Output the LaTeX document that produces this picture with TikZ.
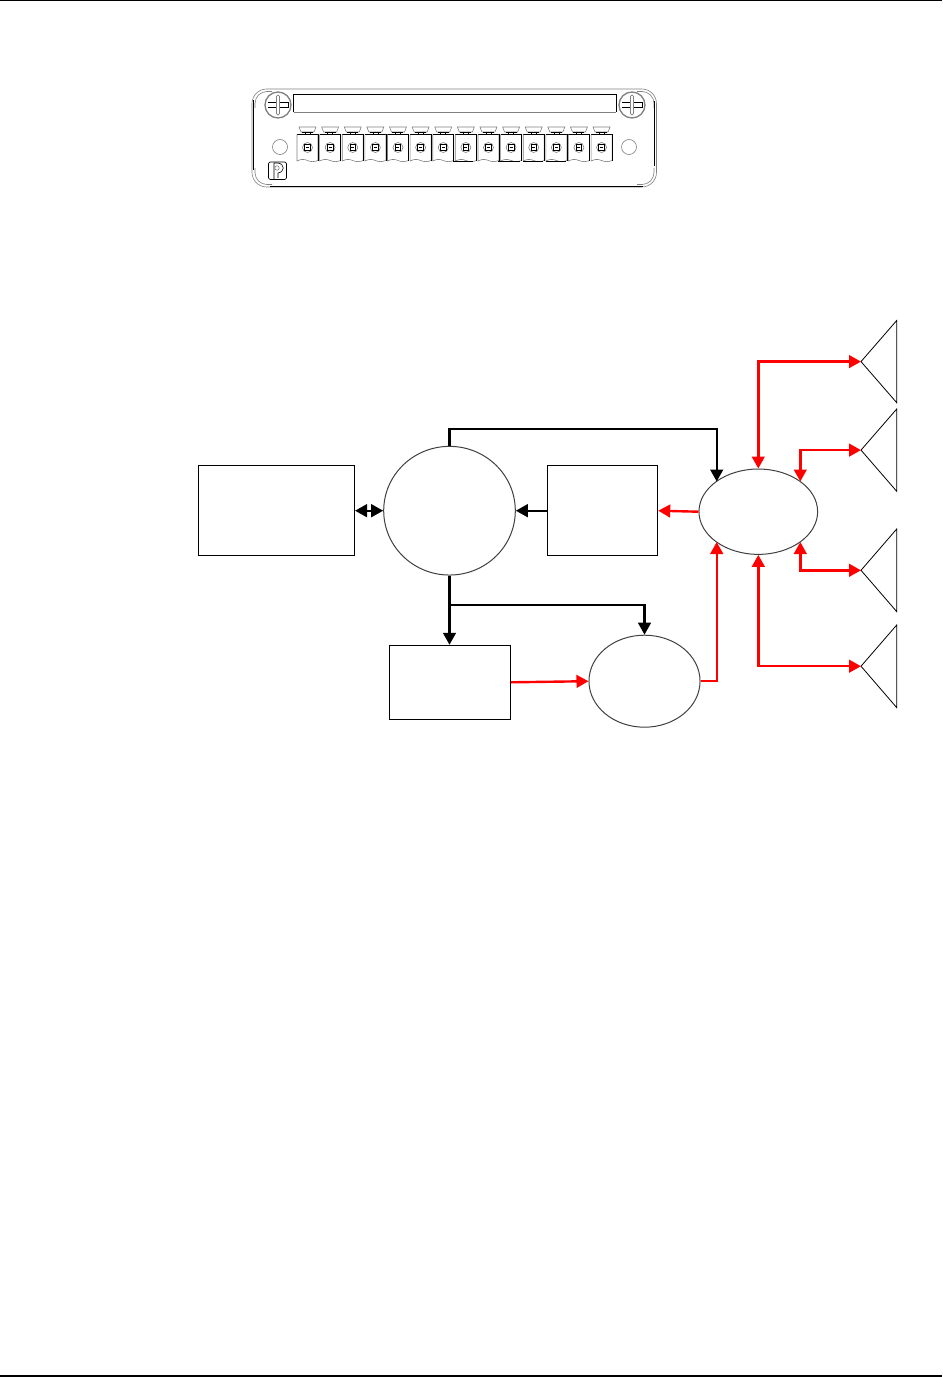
\documentclass[tikz,border=0pt]{standalone}
\usetikzlibrary{shapes.geometric,arrows.meta}
\definecolor{wire}{RGB}{255,0,0}
\definecolor{thin}{gray}{0.5}
\tikzset{
  x=0.75pt,y=-0.75pt,
  boxnode/.style={draw=black,line width=0.75pt,rectangle,inner sep=0pt},
  roundnode/.style={draw=black!75,line width=0.75pt,ellipse,inner sep=0pt},
  conn/.style={line width=1.8pt,-{Triangle[length=9pt,width=9.5pt]},line join=miter},
  dconn/.style={line width=1.8pt,{Triangle[length=9pt,width=9.5pt]}-{Triangle[length=9pt,width=9.5pt]},line join=miter},
  horn/.style={draw=black,line width=0.6pt,line join=miter},
  panel/.style={draw=black,line width=0.5pt},
  panelthin/.style={draw=thin,line width=0.45pt},
}
\begin{document}
\begin{tikzpicture}
\useasboundingbox (0,0) rectangle (942,1377);
% page rules
\draw[line width=0.9pt] (0,0.8) -- (942,0.8);
\draw[line width=0.9pt] (0,1376) -- (942,1376);

% ---- front panel ----
\draw[panelthin,rounded corners=11pt] (252,89) rectangle (656.5,187);
\draw[panelthin,rounded corners=9pt] (255,108) |- (272,91.5);
\draw[panelthin,rounded corners=9pt] (637,91.5) -| (654,108);
\draw[panelthin,rounded corners=9pt] (255,168) |- (272,184.5);
\draw[panelthin,rounded corners=9pt] (637,184.5) -| (654,168);
\draw[panel] (253.5,100) -- (253.5,170);
\draw[panel] (270,186) -- (643,186);
\draw[panel] (654,101) -- (654,166);
% label strip
\draw[panel] (293.5,112) -- (293.5,94.5) -- (616,94.5) -- (616,112);
\draw[panelthin] (293.5,112) -- (616,112);
% screws
\foreach \cx/\cy in {278/105,632/105}{
  \draw[draw=thin,line width=1pt] (\cx,\cy) circle[radius=13];
  \draw[panel,line width=0.45pt] (\cx-10,\cy-2.5) -- (\cx-1.5,\cy-2.5) (\cx+1.5,\cy-2.5) -- (\cx+10,\cy-2.5) -- (\cx+10,\cy+2.5) -- (\cx+1.5,\cy+2.5) (\cx-1.5,\cy+2.5) -- (\cx-10,\cy+2.5) -- cycle;
  \draw[draw=thin,line width=0.5pt,rounded corners=1pt] (\cx-1.5,\cy-10) rectangle (\cx+1.5,\cy+10);
}
% holes
\draw[panelthin] (280,147) circle[radius=7.5];
\draw[panelthin] (629,147) circle[radius=7.5];
% logo
\draw[panel,rounded corners=1.5pt] (268.5,162) rectangle (286.5,179.5);
\draw[panel,line width=0.45pt] (274,179) -- (274,163) -- (278,163) .. controls (285,164) and (285,172) .. (278,173) -- (278,178);
\draw[panelthin] (277,168) circle[radius=2.2];
% terminals
\foreach \i in {0,...,13}{
  \begin{scope}[shift={({297+22.62*\i},0)}]
    \draw[panelthin] (2,127) -- (19,127) -- (17,132) -- (4,132) -- cycle;
    \draw[panel,line width=0.45pt] (5,132.5) -- (16,132.5);
    \draw[panel,line width=0.45pt] (8,132.5) -- (8,134.5) (13,132.5) -- (13,134.5);
    \draw[panel,line width=0.45pt] (0,134.5) -- (21,134.5);
    \draw[panelthin] (0,134.5) -- (0,161) .. controls (4,159) and (7,159) .. (10.5,160.5) .. controls (14,162) and (17,162) .. (21,160.5) -- (21,134.5);
    \draw[panel,line width=0.45pt] (21,134.5) -- (21,161);
    \draw[panelthin] (10.5,147.5) circle[radius=5];
    \draw[panel,line width=0.55pt] (7.7,144.5) rectangle (13.3,150.5);
    \draw[panel,line width=0.4pt] (9,147.5) -- (12,147.5);
  \end{scope}
}
\draw[panel,line width=0.9pt] (453,161.5) -- (473,161.5) (498,161.5) -- (520,161.5) (523,161.5) -- (543,161.5) (546,161.5) -- (566,161.5);

% ---- block diagram ----
\node[boxnode,minimum width=117pt,minimum height=67.9pt] (host) at (276.5,510.7) {};
\node[roundnode,minimum width=98.7pt,minimum height=96.5pt] (proc) at (449.5,510.7) {};
\node[boxnode,minimum width=82.8pt,minimum height=67.9pt] (adc) at (602.5,510.7) {};
\node[boxnode,minimum width=90.8pt,minimum height=55.5pt] (dac) at (449.8,682.3) {};
\node[roundnode,minimum width=83.3pt,minimum height=69pt] (amp) at (644.5,681.2) {};
\node[roundnode,minimum width=89pt,minimum height=64pt] (xbar) at (758.3,511.7) {};

% speakers
\foreach \n/\ya/\ym/\yb in {a/320.5/361.6/402.7,b/409/450.1/491.3,c/529/570.3/611.6,d/625/666.2/707.6}{
  \coordinate (sp\n) at (861,\ym);
  \draw[horn] (sp\n) -- (896.7,\ya) -- (896.7,\yb) -- cycle;
}

% junction / tap coordinates
\coordinate (pr1) at (449.5,429);
\coordinate (xbarNW) at (716.7,481.5);
\coordinate (xbarSW) at (716.7,542);
\coordinate (xbarNE) at (800.3,481.5);
\coordinate (xbarSE) at (800.3,542);
\coordinate (tap) at (449.5,605);

% black connectors
\draw[dconn] (host.east) -- (proc.west);
\draw[conn] (adc.west) -- (proc.east);
\draw[conn] (proc.north) -- (pr1) -| (xbarNW);
\draw[conn] (proc.south) -- (dac.north -| proc.south);
\draw[conn] (tap) -| (amp.north);

% red connectors
\draw[conn,draw=wire,color=wire] (xbar.west) -- (adc.east);
\draw[conn,draw=wire,color=wire] (dac.east) -- (amp.west);
\draw[conn,draw=wire,color=wire] (amp.east) -| (xbarSW);
\draw[dconn,draw=wire,color=wire] (xbar.north) |- (spa);
\draw[dconn,draw=wire,color=wire] (xbarNE) |- (spb);
\draw[dconn,draw=wire,color=wire] (xbarSE) |- (spc);
\draw[dconn,draw=wire,color=wire] (xbar.south) |- (spd);
\end{tikzpicture}
\end{document}
